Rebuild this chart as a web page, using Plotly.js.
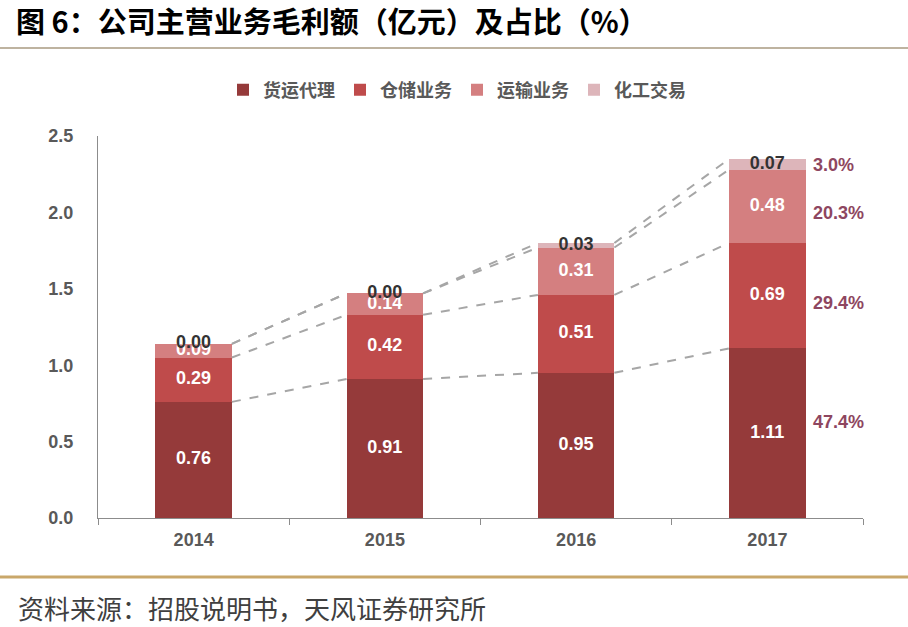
<!DOCTYPE html>
<html>
<head>
<meta charset="utf-8">
<script src="https://cdn.plot.ly/plotly-3.0.1.min.js"></script>
<style>html,body{margin:0;padding:0;background:#fff;}#chart{width:908px;height:627px;}</style>
</head>
<body>
<div id="chart"></div>
<script>
const years = ['2014', '2015', '2016', '2017'];
const seriesNames = ['货运代理', '仓储业务', '运输业务', '化工交易'];
const freight = [0.76, 0.91, 0.95, 1.11];
const storage = [0.29, 0.42, 0.51, 0.69];
const transport = [0.09, 0.14, 0.31, 0.48];
const chemical = [0.00, 0.00, 0.03, 0.07];
const pct2017 = ['47.4%', '29.4%', '20.3%', '3.0%'];
const yTicks = [0, 0.5, 1.0, 1.5, 2.0, 2.5];

const series = [freight, storage, transport, chemical];
const colors = ['#953A3A', '#BF4B4B', '#D47F80', '#DDB5BA'];
const labelColors = ['#FFFFFF', '#FFFFFF', '#FFFFFF', '#333333'];
const pctShift = [11, -7, -7, -1];
const xs = years.map((_, i) => i);
const numFont = 'Liberation Sans, Arial, Noto Sans CJK SC, sans-serif';
const cjkFont = 'Noto Sans CJK SC, sans-serif';
const halfW = 0.2;

const cum = [];
let run = years.map(() => 0);
series.forEach(s => { run = run.map((v, i) => v + s[i]); cum.push(run.slice()); });

const traces = [];
series.forEach((s, k) => {
  traces.push({
    type: 'bar', x: xs, y: s, name: seriesNames[k],
    marker: {color: colors[k]}, width: halfW * 2,
    hoverinfo: 'skip'
  });
});
cum.forEach((c) => {
  const lx = [], ly = [];
  for (let i = 0; i < years.length - 1; i++) {
    lx.push(i + halfW, i + 1 - halfW, null);
    ly.push(c[i], c[i + 1], null);
  }
  traces.push({
    type: 'scatter', mode: 'lines', x: lx, y: ly, showlegend: false,
    line: {color: '#A6A6A6', width: 2, dash: 'dash'}, hoverinfo: 'skip'
  });
});
series.forEach((s, k) => {
  const base = k === 0 ? years.map(() => 0) : cum[k - 1];
  traces.push({
    type: 'scatter', mode: 'text', x: xs,
    y: s.map((v, i) => base[i] + v / 2),
    text: s.map(v => v.toFixed(2)), showlegend: false,
    textfont: {family: numFont, size: 18, weight: 'bold', color: labelColors[k]},
    hoverinfo: 'skip'
  });
});

const last = years.length - 1;
const annotations = series.map((s, k) => {
  const base = k === 0 ? 0 : cum[k - 1][last];
  return {
    x: last + halfW, y: base + s[last] / 2, xref: 'x', yref: 'y',
    text: pct2017[k], showarrow: false, xanchor: 'left', yanchor: 'middle', xshift: 5, yshift: pctShift[k],
    font: {family: numFont, size: 18, weight: 'bold', color: '#8E4660'}
  };
});
const L = 98, R = 863, T = 136, B = 518;
const px2x = p => (p - L) / (R - L);
const px2y = p => (B - p) / (B - T);
annotations.push({
  xref: 'paper', yref: 'paper', x: px2x(16), y: px2y(607), xanchor: 'left', yanchor: 'middle',
  text: '资料来源：招股说明书，天风证券研究所', showarrow: false,
  font: {family: cjkFont, size: 26, color: '#404040'}
});

const layout = {
  width: 908, height: 627,
  margin: {l: L, r: 908 - R, t: T, b: 627 - B},
  paper_bgcolor: '#FFFFFF', plot_bgcolor: '#FFFFFF',
  barmode: 'stack',
  showlegend: true,
  title: {
    text: '图 6：公司主营业务毛利额（亿元）及占比（%）',
    x: 16 / 908, xref: 'container', xanchor: 'left',
    y: 1 - 23 / 627, yref: 'container', yanchor: 'middle',
    font: {family: cjkFont, size: 29, weight: 'bold', color: '#000000'}
  },
  legend: {
    orientation: 'h', x: px2x(457), xanchor: 'center', y: px2y(90), yanchor: 'middle',
    font: {family: cjkFont, size: 18, weight: 'bold', color: '#595959'},
    traceorder: 'normal'
  },
  xaxis: {
    range: [-0.5, years.length - 0.5], tickmode: 'array', tickvals: xs, ticktext: years,
    showline: true, linecolor: '#8C8C8C', linewidth: 1, ticks: '', showgrid: false, zeroline: false,
    tickfont: {family: numFont, size: 18, weight: 'bold', color: '#595959'},
    ticklabelstandoff: 5,
    minor: {tickmode: 'array', tickvals: [-0.5, 0.5, 1.5, 2.5, 3.5], ticks: 'outside', ticklen: 6, tickcolor: '#8C8C8C', showgrid: false},
    fixedrange: true
  },
  yaxis: {
    range: [0, 2.5], tickmode: 'array', tickvals: yTicks, ticktext: yTicks.map(v => v.toFixed(1)),
    showline: true, linecolor: '#8C8C8C', linewidth: 1, ticks: '', showgrid: false, zeroline: false,
    tickfont: {family: numFont, size: 18, weight: 'bold', color: '#595959'},
    ticklabelstandoff: 20, fixedrange: true
  },
  shapes: [
    {type: 'line', xref: 'paper', yref: 'paper', x0: px2x(0), x1: px2x(908), y0: px2y(48), y1: px2y(48),
     line: {color: '#A89A80', width: 1.5}},
    {type: 'line', xref: 'paper', yref: 'paper', x0: px2x(0), x1: px2x(908), y0: px2y(577), y1: px2y(577),
     line: {color: '#C9A76A', width: 3}}
  ],
  annotations: annotations
};

Plotly.newPlot('chart', traces, layout, {displayModeBar: false, staticPlot: true});
</script>
</body>
</html>
